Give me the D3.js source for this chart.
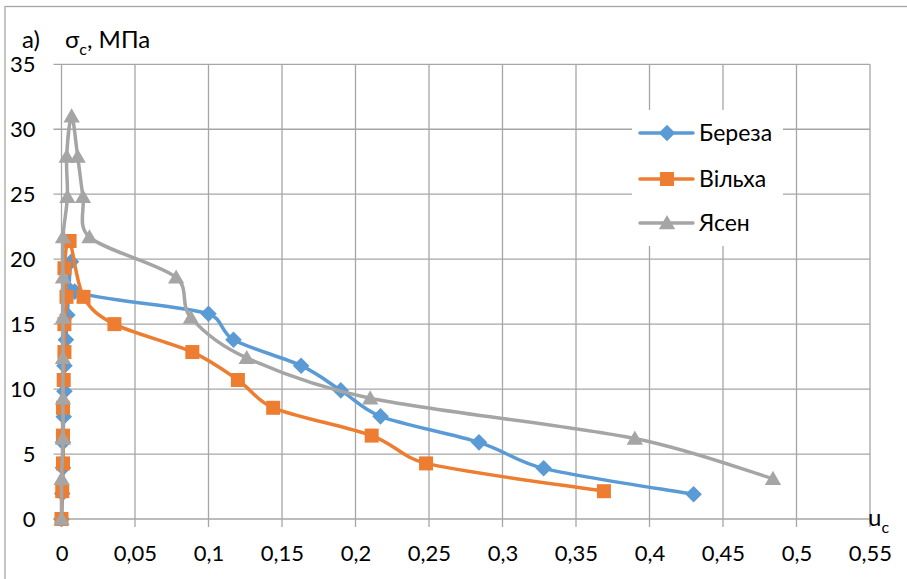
<!DOCTYPE html>
<html>
<head>
<meta charset="utf-8">
<script src="https://cdn.jsdelivr.net/npm/d3@7"></script>
<style>
  html, body { margin: 0; padding: 0; background: #fff; }
  svg { display: block; }
  text { font-family: Lato, "Open Sans", sans-serif; fill: #000; }
</style>
</head>
<body>
<svg id="chart" width="907" height="579"></svg>
<script>
// ---- data ----
const seriesNames = ["Береза", "Вільха", "Ясен"];

const berezaX = [0, 0.0005, 0.001, 0.001, 0.0015, 0.002, 0.002, 0.003, 0.004, 0.005, 0.0065, 0.009, 0.1, 0.117, 0.163, 0.19, 0.217, 0.284, 0.328, 0.43];
const berezaY = [0, 1.97, 3.94, 5.9, 7.87, 9.84, 11.8, 13.8, 15.7, 17.7, 19.8, 17.5, 15.8, 13.8, 11.8, 9.9, 7.9, 5.9, 3.9, 1.9];

const vilkhaX = [0, 0.0005, 0.001, 0.001, 0.001, 0.0015, 0.002, 0.002, 0.0034, 0.002, 0.0055, 0.015, 0.036, 0.089, 0.12, 0.144, 0.211, 0.248, 0.369];
const vilkhaY = [0, 2.14, 4.28, 6.42, 8.56, 10.7, 12.85, 15.0, 17.1, 19.3, 21.4, 17.1, 15.0, 12.85, 10.7, 8.56, 6.42, 4.28, 2.14];

const yasenX = [0, 0.0001, 0.001, 0.001, 0.001, 0.001, 0.001, 0.001, 0.004, 0.0035, 0.0069, 0.011, 0.0146, 0.019, 0.078, 0.088, 0.126, 0.21, 0.39, 0.484];
const yasenY = [0, 3.1, 6.2, 9.3, 12.4, 15.5, 18.6, 21.7, 24.8, 27.9, 31.0, 27.9, 24.8, 21.7, 18.6, 15.5, 12.4, 9.3, 6.2, 3.1];

const xTicks = [0, 0.05, 0.1, 0.15, 0.2, 0.25, 0.3, 0.35, 0.4, 0.45, 0.5, 0.55];
const yTicks = [0, 5, 10, 15, 20, 25, 30, 35];

// ---- layout ----
const colors = ["#5B9BD5", "#ED7D31", "#A5A5A5"];
const symbols = [d3.symbolDiamond2, d3.symbolSquare2, d3.symbolTriangle2];
const markerSize = [175, 250, 190];
const plot = { left: 61.5, right: 870, top: 64.3, bottom: 519 };

const svg = d3.select("#chart");
const x = d3.scaleLinear().domain([0, 0.55]).range([plot.left, plot.right]);
const y = d3.scaleLinear().domain([0, 35]).range([plot.bottom, plot.top]);
const fmt = v => String(+v.toFixed(2)).replace(".", ",");

// Excel-like smoothing: Catmull-Rom tangents (1/6) with control length clamped
function smoothCurve(context) {
  let pts = [];
  return {
    areaStart() {}, areaEnd() {},
    lineStart() { pts = []; },
    point(px, py) { pts.push([+px, +py]); },
    lineEnd() {
      const n = pts.length;
      if (!n) return;
      context.moveTo(pts[0][0], pts[0][1]);
      const clamp = (vx, vy, maxLen) => {
        const l = Math.hypot(vx, vy);
        if (l > maxLen && l > 0) { const s = maxLen / l; return [vx * s, vy * s]; }
        return [vx, vy];
      };
      for (let i = 0; i < n - 1; i++) {
        const p0 = pts[Math.max(0, i - 1)], p1 = pts[i], p2 = pts[i + 1], p3 = pts[Math.min(n - 1, i + 2)];
        const seg = Math.hypot(p2[0] - p1[0], p2[1] - p1[1]);
        const t1 = clamp((p2[0] - p0[0]) / 6, (p2[1] - p0[1]) / 6, seg * 0.4);
        const t2 = clamp((p3[0] - p1[0]) / 6, (p3[1] - p1[1]) / 6, seg * 0.4);
        context.bezierCurveTo(p1[0] + t1[0], p1[1] + t1[1], p2[0] - t2[0], p2[1] - t2[1], p2[0], p2[1]);
      }
    }
  };
}

// outer border
svg.append("rect").attr("x", 5).attr("y", 6.5).attr("width", 960).attr("height", 640)
  .attr("fill", "#fff").attr("stroke", "#a6a6a6").attr("stroke-width", 1.3);

// gridlines
const grid = svg.append("g").attr("stroke", "#a6a6a6").attr("stroke-width", 1.3);
grid.selectAll("line.v").data(xTicks).join("line")
  .attr("x1", d => x(d)).attr("x2", d => x(d))
  .attr("y1", plot.top).attr("y2", plot.bottom + 8);
grid.selectAll("line.h").data(yTicks).join("line")
  .attr("x1", plot.left - 8).attr("x2", plot.right)
  .attr("y1", d => y(d)).attr("y2", d => y(d));

// axes labels via d3 axes
const xAxis = svg.append("g").attr("transform", `translate(0,${plot.bottom})`)
  .call(d3.axisBottom(x).tickValues(xTicks).tickFormat(fmt).tickSize(0).tickPadding(26));
const yAxis = svg.append("g").attr("transform", `translate(${plot.left},0)`)
  .call(d3.axisLeft(y).tickValues(yTicks).tickFormat(d => d).tickSize(0).tickPadding(26));
[xAxis, yAxis].forEach(a => {
  a.select(".domain").remove();
  a.selectAll("text").style("font-family", "Lato, sans-serif").style("font-size", "22px").attr("fill", "#000");
});

// series
const data = [
  berezaX.map((v, i) => [v, berezaY[i]]),
  vilkhaX.map((v, i) => [v, vilkhaY[i]]),
  yasenX.map((v, i) => [v, yasenY[i]])
];
const line = d3.line().x(d => x(d[0])).y(d => y(d[1])).curve(smoothCurve);

data.forEach((pts, si) => {
  const g = svg.append("g");
  g.append("path").attr("d", line(pts)).attr("fill", "none")
    .attr("stroke", colors[si]).attr("stroke-width", 3.5).attr("stroke-linejoin", "round").attr("stroke-linecap", "round");
  g.selectAll("path.m").data(pts).join("path").attr("class", "m")
    .attr("transform", d => `translate(${x(d[0])},${y(d[1]) + (si === 2 ? 1.5 : 0)})`)
    .attr("d", d3.symbol().type(symbols[si]).size(markerSize[si]))
    .attr("fill", colors[si]);
});

// legend
const leg = svg.append("g");
leg.append("rect").attr("x", 632).attr("y", 110).attr("width", 151).attr("height", 136).attr("fill", "#fff");
const legY = [133, 179, 223];
seriesNames.forEach((name, i) => {
  leg.append("line").attr("x1", 640).attr("x2", 693).attr("y1", legY[i]).attr("y2", legY[i])
    .attr("stroke", colors[i]).attr("stroke-width", 3.5).attr("stroke-linecap", "round");
  leg.append("path").attr("transform", `translate(667,${legY[i] + (i === 2 ? 1.5 : 0)})`)
    .attr("d", d3.symbol().type(symbols[i]).size(markerSize[i])).attr("fill", colors[i]);
  leg.append("text").attr("x", 699).attr("y", legY[i]).attr("dy", "0.36em")
    .style("font-size", "23px").text(name);
});

// titles
const t = svg.append("text").attr("x", 22).attr("y", 48).style("font-size", "24px");
t.append("tspan").text("а)");
t.append("tspan").attr("x", 65).text("σ");
t.append("tspan").attr("dy", 7).style("font-size", "16px").text("c");
t.append("tspan").attr("dy", -7).text(", МПа");

const u = svg.append("text").attr("x", 868).attr("y", 526).style("font-size", "24px");
u.append("tspan").text("u");
u.append("tspan").attr("dy", 7).style("font-size", "16px").text("c");
</script>
</body>
</html>
